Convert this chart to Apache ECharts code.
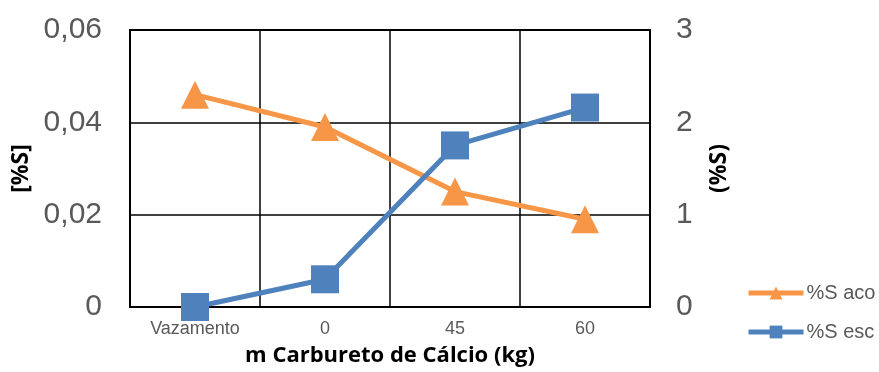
<!DOCTYPE html>
<html>
<head>
<meta charset="utf-8">
<script src="https://cdn.jsdelivr.net/npm/echarts@6/dist/echarts.min.js"></script>
<style>
  html, body { margin: 0; padding: 0; background: #fff; }
  #chart { width: 879px; height: 372px; }
</style>
</head>
<body>
<div id="chart"></div>
<script>
// Categories: ladle tapping, then amounts of calcium carbide added (kg)
const categories = ['Vazamento', '0', '45', '60'];
// Sulfur in steel (left axis, %)
const sAco = [0.046, 0.039, 0.025, 0.019];
// Sulfur in slag (right axis, %)
const sEsc = [0.0, 0.30, 1.75, 2.16];

const leftTicks = { min: 0, max: 0.06, interval: 0.02 };
const rightTicks = { min: 0, max: 3, interval: 1 };

const labelFont = 'Liberation Sans, Arial, sans-serif';
const titleFont = 'Open Sans, sans-serif';
const grey = '#595959';

const chart = echarts.init(document.getElementById('chart'), null, { renderer: 'canvas' });

chart.setOption({
  animation: false,
  backgroundColor: '#ffffff',
  grid: {
    left: 130, right: 229, top: 30, bottom: 61,
    show: true, borderColor: '#000', borderWidth: 2, backgroundColor: 'transparent'
  },
  legend: {
    orient: 'vertical',
    left: 746, top: 283,
    padding: 0,
    itemWidth: 55, itemHeight: 16, itemGap: 19,
    lineStyle: { width: 5 },
    textStyle: { fontFamily: labelFont, fontSize: 20, color: grey, padding: [0, 0, 0, -2] },
    data: ['%S aco', '%S esc']
  },
  xAxis: {
    type: 'category',
    data: categories,
    boundaryGap: true,
    axisLine: { show: true, lineStyle: { color: '#000', width: 2 } },
    axisTick: { show: false },
    splitLine: { show: true, interval: 0, lineStyle: { color: '#000', width: 1.5 } },
    axisLabel: { interval: 0, margin: 13, fontFamily: labelFont, fontSize: 18, color: grey },
    name: 'm Carbureto de Cálcio (kg)',
    nameLocation: 'middle',
    nameGap: 38,
    nameTextStyle: { fontFamily: titleFont, fontWeight: 'bold', fontSize: 22, color: '#000' }
  },
  yAxis: [
    {
      type: 'value',
      position: 'left',
      min: leftTicks.min, max: leftTicks.max, interval: leftTicks.interval,
      axisLine: { show: true, lineStyle: { color: '#000', width: 2 } },
      axisTick: { show: false },
      splitLine: { show: true, lineStyle: { color: '#000', width: 1.5 } },
      axisLabel: {
        margin: 28, fontFamily: labelFont, fontSize: 30, color: grey,
        formatter: v => v === 0 ? '0' : v.toFixed(2).replace('.', ',')
      },
      name: '[%S]',
      nameLocation: 'middle',
      nameRotate: 90,
      nameGap: 92,
      nameTextStyle: { fontFamily: titleFont, fontWeight: 'bold', fontSize: 23, color: '#000' }
    },
    {
      type: 'value',
      position: 'right',
      min: rightTicks.min, max: rightTicks.max, interval: rightTicks.interval,
      axisLine: { show: false },
      axisTick: { show: false },
      splitLine: { show: false },
      axisLabel: { margin: 26, fontFamily: labelFont, fontSize: 30, color: grey },
      name: '(%S)',
      nameLocation: 'middle',
      nameRotate: 90,
      nameGap: 58,
      nameTextStyle: { fontFamily: titleFont, fontWeight: 'bold', fontSize: 23, color: '#000' }
    }
  ],
  series: [
    {
      name: '%S aco',
      type: 'line',
      yAxisIndex: 0,
      data: sAco,
      symbol: 'triangle',
      symbolSize: 28,
      lineStyle: { color: '#F79646', width: 5 },
      itemStyle: { color: '#F79646' },
      z: 3
    },
    {
      name: '%S esc',
      type: 'line',
      yAxisIndex: 1,
      data: sEsc,
      symbol: 'rect',
      symbolSize: 28,
      lineStyle: { color: '#4F81BD', width: 5 },
      itemStyle: { color: '#4F81BD' },
      z: 4
    }
  ]
});
</script>
</body>
</html>
